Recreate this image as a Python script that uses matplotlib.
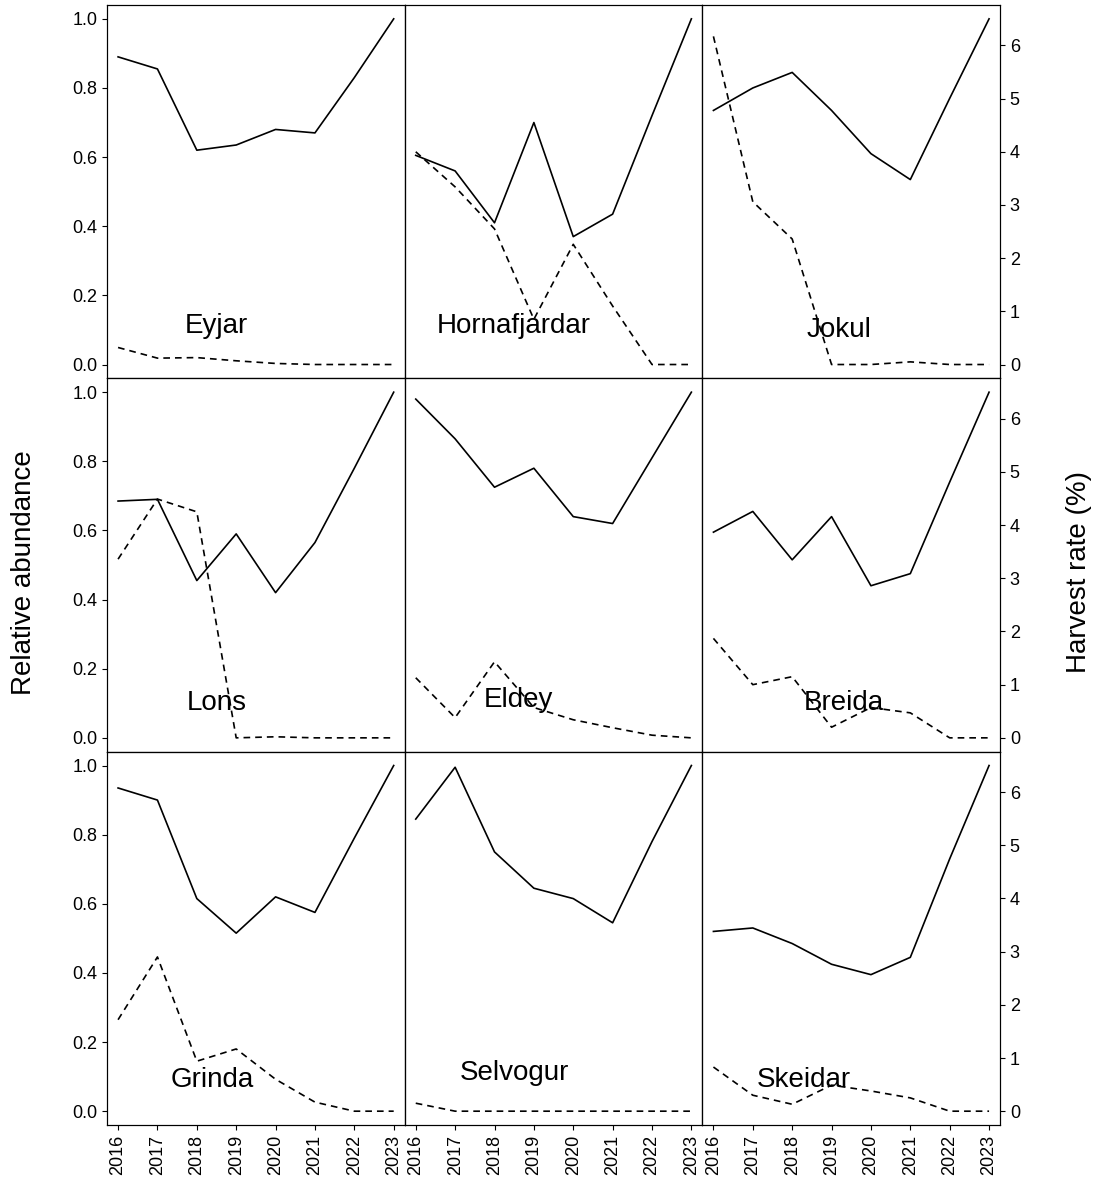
import matplotlib
matplotlib.use("Agg")
import matplotlib.pyplot as plt
import numpy as np

years = np.arange(2016, 2024)
sites = ["Eyjar", "Hornafjardar", "Jokul", "Lons", "Eldey", "Breida",
         "Grinda", "Selvogur", "Skeidar"]
abundance = {
    "Eyjar": [0.89, 0.855, 0.62, 0.635, 0.68, 0.67, 0.83, 1.0],
    "Hornafjardar": [0.605, 0.56, 0.41, 0.70, 0.37, 0.435, 0.72, 1.0],
    "Jokul": [0.735, 0.80, 0.845, 0.735, 0.61, 0.535, 0.77, 1.0],
    "Lons": [0.685, 0.69, 0.455, 0.59, 0.42, 0.565, 0.78, 1.0],
    "Eldey": [0.98, 0.865, 0.725, 0.78, 0.64, 0.62, 0.81, 1.0],
    "Breida": [0.595, 0.655, 0.515, 0.64, 0.44, 0.475, 0.74, 1.0],
    "Grinda": [0.935, 0.90, 0.615, 0.515, 0.62, 0.575, 0.79, 1.0],
    "Selvogur": [0.845, 0.995, 0.75, 0.645, 0.615, 0.545, 0.78, 1.0],
    "Skeidar": [0.52, 0.53, 0.485, 0.425, 0.395, 0.445, 0.73, 1.0],
}
harvest = {
    "Eyjar": [0.32, 0.12, 0.13, 0.07, 0.02, 0.0, 0.0, 0.0],
    "Hornafjardar": [4.0, 3.34, 2.55, 0.85, 2.26, 1.1, 0.0, 0.0],
    "Jokul": [6.17, 3.06, 2.36, 0.0, 0.0, 0.05, 0.0, 0.0],
    "Lons": [3.36, 4.49, 4.25, 0.0, 0.02, 0.0, 0.0, 0.0],
    "Eldey": [1.13, 0.38, 1.43, 0.57, 0.34, 0.19, 0.05, 0.0],
    "Breida": [1.87, 1.0, 1.15, 0.2, 0.57, 0.47, 0.0, 0.0],
    "Grinda": [1.72, 2.9, 0.94, 1.17, 0.6, 0.17, 0.0, 0.0],
    "Selvogur": [0.15, 0.0, 0.0, 0.0, 0.0, 0.0, 0.0, 0.0],
    "Skeidar": [0.83, 0.3, 0.13, 0.49, 0.38, 0.25, 0.0, 0.0],
}
label_pos = {
    "Eyjar": (2018.5, 0.11), "Hornafjardar": (2018.5, 0.11), "Jokul": (2019.2, 0.1),
    "Lons": (2018.5, 0.1), "Eldey": (2018.6, 0.11), "Breida": (2019.3, 0.1),
    "Grinda": (2018.4, 0.09), "Selvogur": (2018.5, 0.11), "Skeidar": (2018.3, 0.09),
}

plt.rcParams["font.family"] = ["Liberation Sans", "DejaVu Sans"]
fig, axes = plt.subplots(3, 3, figsize=(10.99, 11.92), dpi=100, sharex=True)
fig.subplots_adjust(left=0.0974, right=0.91, top=0.9958, bottom=0.0562,
                    wspace=0, hspace=0)

for i, site in enumerate(sites):
    r, c = divmod(i, 3)
    ax = axes[r, c]
    ax.plot(years, abundance[site], color="black", lw=1.2)
    ax.set_ylim(-0.04, 1.04)
    ax.set_xlim(2015.72, 2023.28)
    ax2 = ax.twinx()
    ax2.plot(years, harvest[site], color="black", lw=1.2, ls=(0, (4, 3)))
    ax2.set_ylim(-0.26, 6.76)
    ax.text(*label_pos[site], site, ha="center", va="center", fontsize=20)
    ax.set_yticks(np.arange(0, 1.01, 0.2))
    ax2.set_yticks(range(7))
    ax.tick_params(labelsize=13, direction="out")
    ax2.tick_params(labelsize=13, direction="out")
    if c != 0:
        ax.tick_params(left=False, labelleft=False)
    else:
        ax.set_yticklabels([f"{v:.1f}" for v in np.arange(0, 1.01, 0.2)])
    if c != 2:
        ax2.tick_params(right=False, labelright=False)
    if r == 2:
        ax.set_xticks(years)
        ax.set_xticklabels([str(y) for y in years], rotation=90)
    else:
        ax.tick_params(bottom=False)

fig.text(0.022, 0.52, "Relative abundance", rotation=90, ha="center", va="center", fontsize=20)
fig.text(0.982, 0.52, "Harvest rate (%)", rotation=90, ha="center", va="center", fontsize=20)
fig.savefig("out.png", dpi=100)
